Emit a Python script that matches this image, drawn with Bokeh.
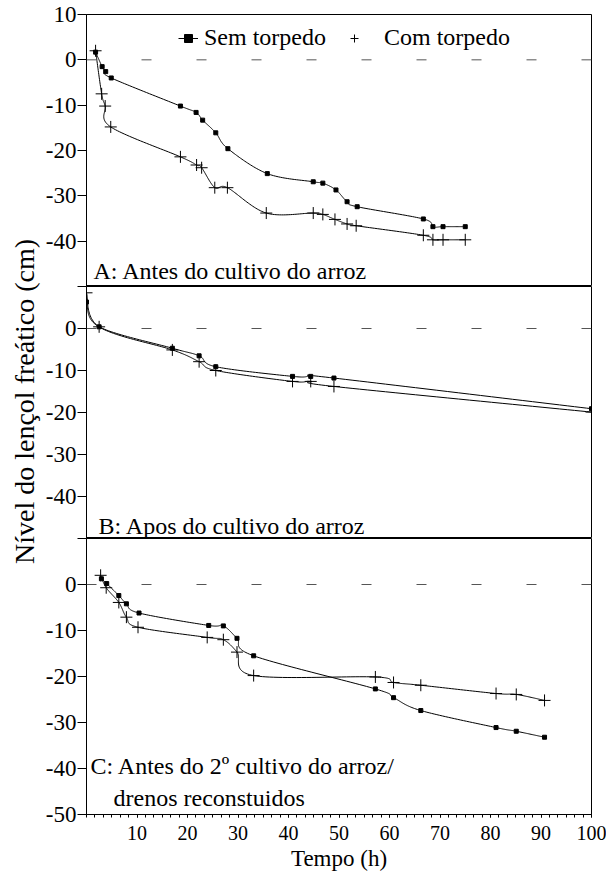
import numpy as np
from bokeh.plotting import figure
from bokeh.models import Range1d, FixedTicker, Span, Label, Legend, LegendItem
from bokeh.layouts import row, column
from bokeh.embed import file_html
from bokeh.resources import INLINE

# ---------------- data ----------------
# Panel A: Antes do cultivo do arroz
xA_sem = [1.8, 3.1, 3.8, 4.9, 18.6, 21.7, 23.0, 25.6, 28.0, 35.8, 44.9, 46.8, 49.4, 51.6, 53.6, 66.7, 68.6, 70.6, 75.0]
yA_sem = [1.7, -1.5, -2.6, -4.0, -10.2, -11.6, -13.3, -16.1, -19.6, -25.1, -26.9, -27.2, -28.7, -31.3, -32.4, -35.1, -36.8, -36.8, -36.8]
xA_com = [1.8, 3.0, 3.7, 4.8, 18.6, 21.8, 22.8, 25.4, 27.9, 35.6, 44.9, 46.8, 49.2, 51.6, 53.4, 66.7, 68.6, 70.6, 75.0]
yA_com = [2.0, -7.5, -10.2, -14.8, -21.4, -23.2, -23.8, -28.2, -28.2, -33.8, -33.8, -34.1, -35.2, -36.2, -36.6, -38.7, -39.7, -39.7, -39.7]

# Panel B: Apos do cultivo do arroz
xB_sem = [0.0, 2.5, 17.0, 22.3, 25.6, 40.8, 44.4, 49.0, 100.0]
yB_sem = [6.3, 0.4, -4.7, -6.5, -9.1, -11.4, -11.4, -11.8, -19.1]
xB_com = [0.0, 2.5, 17.0, 22.3, 25.6, 40.8, 44.4, 49.0, 100.0]
yB_com = [8.5, 0.4, -5.1, -7.9, -10.0, -12.6, -12.6, -13.8, -19.9]

# Panel C: Antes do 2º cultivo do arroz / drenos reconstuidos
xC_sem = [2.95, 4.0, 6.4, 7.9, 10.4, 24.2, 27.1, 29.8, 33.1, 57.2, 60.8, 66.2, 81.1, 85.1, 90.7]
yC_sem = [1.25, 0.2, -2.4, -4.2, -6.2, -8.9, -9.0, -11.7, -15.5, -22.7, -24.6, -27.4, -31.1, -31.9, -33.2]
xC_com = [2.8, 3.9, 6.4, 7.9, 10.2, 23.9, 27.1, 29.8, 33.1, 57.2, 60.8, 66.2, 81.1, 85.1, 90.7]
yC_com = [2.0, -0.7, -3.9, -7.1, -9.3, -11.5, -12.0, -14.7, -19.8, -20.1, -21.3, -21.9, -23.7, -23.9, -25.2]

y_ticks = [-50, -40, -30, -20, -10, 0, 10]
x_ticks = [10, 20, 30, 40, 50, 60, 70, 80, 90, 100]

series_names = ["Sem torpedo", "Com torpedo"]
panel_titles = ["A: Antes do cultivo do arroz",
                "B: Apos do cultivo do arroz",
                "C: Antes do 2º cultivo do arroz/",
                "drenos reconstuidos"]
y_title = "Nível do lençol freático (cm)"
x_title = "Tempo (h)"

FONT = "Liberation Serif"


def smooth(xs, ys, steps=30):
    """Smoothed (Catmull-Rom / Bezier) curve through the data points."""
    P = np.column_stack([xs, ys]).astype(float)
    n = len(P)
    out = [P[0]]
    t = np.linspace(0, 1, steps)[1:]
    for i in range(n - 1):
        p0 = P[i - 1] if i > 0 else P[i]
        p1 = P[i]
        p2 = P[i + 1]
        p3 = P[i + 2] if i + 2 < n else P[i + 1]
        c1 = p1 + (p2 - p0) / 6.0
        c2 = p2 - (p3 - p1) / 6.0
        seg = (((1 - t) ** 3)[:, None] * p1 + (3 * (1 - t) ** 2 * t)[:, None] * c1
               + (3 * (1 - t) * t ** 2)[:, None] * c2 + (t ** 3)[:, None] * p2)
        out.extend(seg)
    out = np.array(out)
    return out[:, 0], out[:, 1]


x_range = Range1d(0, 100)
W_YT = 42            # width of the y-title strip
BL, BR = 42, 15
FRAME_W = 507


def make_panel(height, btop, bbottom, xs, ys, xc, yc, hide, bottom_axis):
    p = figure(width=BL + FRAME_W + BR, height=height, x_range=x_range,
               y_range=Range1d(-50, 10), output_backend="svg", toolbar_location=None,
               min_border_left=BL, min_border_right=BR, min_border_top=btop,
               min_border_bottom=bbottom,
               x_axis_location="below" if bottom_axis else None)
    p.grid.visible = False
    p.outline_line_color = "black"
    p.outline_line_width = 1
    p.background_fill_color = "white"
    p.border_fill_color = "white"

    p.yaxis.ticker = FixedTicker(ticks=y_ticks)
    p.yaxis.major_label_overrides = {v: ("" if v in hide else str(v)) for v in y_ticks}
    p.yaxis.major_tick_in = 0
    p.yaxis.major_tick_out = 9
    p.yaxis.minor_tick_out = 0
    p.yaxis.axis_line_color = "black"
    p.yaxis.major_tick_line_color = "black"
    p.yaxis.major_label_text_font = FONT
    p.yaxis.major_label_text_font_size = "23px"
    p.yaxis.major_label_text_color = "black"
    p.yaxis.major_label_standoff = 1

    if bottom_axis:
        p.xaxis.ticker = FixedTicker(ticks=x_ticks, minor_ticks=list(np.arange(0, 100.01, 10 / 6)))
        p.xaxis.major_label_overrides = {v: str(v) for v in x_ticks}
        p.xaxis.major_tick_in = 0
        p.xaxis.major_tick_out = 3
        p.xaxis.minor_tick_in = 0
        p.xaxis.minor_tick_out = 3
        p.xaxis.axis_line_color = "black"
        p.xaxis.major_label_text_font = FONT
        p.xaxis.major_label_text_font_size = "20px"
        p.xaxis.major_label_text_color = "black"
        p.xaxis.major_label_standoff = 8
        p.xaxis.axis_label = x_title
        p.xaxis.axis_label_text_font = FONT
        p.xaxis.axis_label_text_font_size = "23px"
        p.xaxis.axis_label_text_font_style = "normal"
        p.xaxis.axis_label_text_color = "black"
        p.xaxis.axis_label_standoff = 3

    p.add_layout(Span(location=0, dimension="width", line_color="#555555",
                      line_width=1, line_dash="10 45"))

    sx, sy = smooth(xs, ys)
    cx, cy = smooth(xc, yc)
    l1 = p.line(sx, sy, line_color="black", line_width=1)
    s1 = p.scatter(xs, ys, marker="square", size=4, fill_color="black", line_color="black")
    l2 = p.line(cx, cy, line_color="black", line_width=1)
    s2 = p.scatter(xc, yc, marker="cross", size=12, line_color="black", line_width=1)
    return p, (l1, s1, l2, s2)


pA, rA = make_panel(286, 14, 0, xA_sem, yA_sem, xA_com, yA_com, [-50], False)
pB, rB = make_panel(252, 0, 0, xB_sem, yB_sem, xB_com, yB_com, [10, -50], False)
pC, rC = make_panel(336, 0, 60, xC_sem, yC_sem, xC_com, yC_com, [10], True)

# legends in panel A
leg_common = dict(orientation="horizontal", border_line_color=None, background_fill_alpha=0,
                  padding=0, margin=0, spacing=0, glyph_width=20, glyph_height=20,
                  label_text_font=FONT, label_text_font_size="24px", label_text_color="black")
leg1 = Legend(items=[LegendItem(label=series_names[0], renderers=[rA[0], rA[1]])],
              location=(92, 235), label_standoff=6, **leg_common)
leg2 = Legend(items=[LegendItem(label=series_names[1], renderers=[rA[3]])],
              location=(258, 235), label_standoff=20, **leg_common)
pA.add_layout(leg1)
pA.add_layout(leg2)

lab_common = dict(x_units="screen", y_units="screen", text_font=FONT,
                  text_font_size="24px", text_color="black", text_baseline="alphabetic")
pA.add_layout(Label(x=7, y=16, text=panel_titles[0], **lab_common))
pB.add_layout(Label(x=12, y=13, text=panel_titles[1], **lab_common))
pC.add_layout(Label(x=4, y=49, text=panel_titles[2], **lab_common))
pC.add_layout(Label(x=27, y=17, text=panel_titles[3], **lab_common))

# y-axis title in a narrow side figure
TOTAL_H = 286 + 252 + 336
pY = figure(width=W_YT, height=TOTAL_H, x_range=Range1d(0, 1), y_range=Range1d(0, 1),
            output_backend="svg", toolbar_location=None, x_axis_location=None,
            y_axis_location=None, min_border=0, outline_line_color=None)
pY.grid.visible = False
pY.add_layout(Label(x=24, y=TOTAL_H - 401, x_units="screen", y_units="screen", text=y_title,
                    angle=np.pi / 2, text_align="center", text_baseline="middle",
                    text_font=FONT, text_font_size="28px", text_color="black"))

layout = row(pY, column(pA, pB, pC, spacing=0), spacing=0)

open("out.html", "w").write(file_html(layout, INLINE))
